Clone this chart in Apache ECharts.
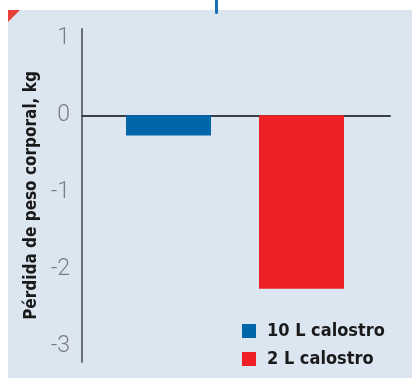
<!DOCTYPE html>
<html>
<head>
<meta charset="utf-8">
<script src="https://cdn.jsdelivr.net/npm/echarts@6/dist/echarts.min.js"></script>
<style>
  html, body { margin: 0; padding: 0; background: #fff; }
  #main { width: 412px; height: 378px; }
</style>
</head>
<body>
<div id="main"></div>
<script>
// datos
const categories = ["10 L calostro", "2 L calostro"];
const serie10L = [-0.26, "-"];
const serie2L = ["-", -2.25];
const yTicks = [-3, -2, -1, 0, 1];

const yMin = -3.2;
const yMax = 1.12;

const boldFont = "'DejaVu Sans Condensed', 'Liberation Sans Narrow', Roboto, sans-serif";

const myChart = echarts.init(document.getElementById("main"));

const option = {
  animation: false,
  backgroundColor: "#ffffff",
  // fondo del panel + adornos
  graphic: [
    { type: "rect", shape: { x: 8, y: 10, width: 404, height: 368 }, style: { fill: "#dce6f0" }, z: -10 },
    { type: "polygon", shape: { points: [[8, 10], [20, 10], [8, 22]] }, style: { fill: "#e8413a" } },
    { type: "rect", shape: { x: 215, y: 0, width: 3, height: 14, r: [0, 0, 1.5, 1.5] }, style: { fill: "#1a6fb5" } },
  ],
  legend: {
    orient: "vertical",
    left: 242,
    top: 322,
    height: 50,
    padding: 0,
    itemWidth: 14,
    itemHeight: 14,
    itemGap: 10,
    icon: "rect",
    data: categories,
    textStyle: {
      fontFamily: boldFont,
      fontWeight: "bold",
      fontSize: 18,
      lineHeight: 14,
      color: "#1a1a1a",
      padding: [0, 0, 0, 6],
    },
  },
  grid: [
    // ejes
    { left: 82, right: 22, top: 29, bottom: 16 },
    // barras
    { left: 102, right: 44, top: 29, bottom: 16 },
  ],
  xAxis: [
    {
      gridIndex: 0,
      type: "category",
      data: ["", ""],
      axisLine: { onZero: true, lineStyle: { color: "#3b3f47", width: 2 } },
      axisTick: { show: false },
      axisLabel: { show: false },
    },
    {
      gridIndex: 1,
      type: "category",
      data: categories,
      show: false,
    },
  ],
  yAxis: [
    {
      gridIndex: 0,
      type: "value",
      min: yMin,
      max: yMax,
      name: "Pérdida de peso corporal, kg",
      nameLocation: "middle",
      nameGap: 40,
      nameRotate: 90,
      nameTextStyle: {
        fontFamily: boldFont,
        fontWeight: "bold",
        fontSize: 17,
        color: "#1a1a1a",
      },
      axisLine: { show: true, lineStyle: { color: "#6b7077", width: 2 } },
      axisTick: { show: false },
      splitLine: { show: false },
      axisLabel: {
        customValues: yTicks,
        margin: 12,
        fontFamily: "Roboto",
        fontWeight: 300,
        fontSize: 23,
        color: "#7a7d82",
      },
    },
    {
      gridIndex: 1,
      type: "value",
      min: yMin,
      max: yMax,
      show: false,
      splitLine: { show: false },
    },
  ],
  series: [
    {
      name: categories[0],
      type: "bar",
      xAxisIndex: 1,
      yAxisIndex: 1,
      stack: "a",
      barWidth: 85,
      data: serie10L,
      itemStyle: { color: "#0066aa" },
    },
    {
      name: categories[1],
      type: "bar",
      xAxisIndex: 1,
      yAxisIndex: 1,
      stack: "a",
      barWidth: 85,
      data: serie2L,
      itemStyle: { color: "#ee1f25" },
    },
  ],
};

myChart.setOption(option);
</script>
</body>
</html>
